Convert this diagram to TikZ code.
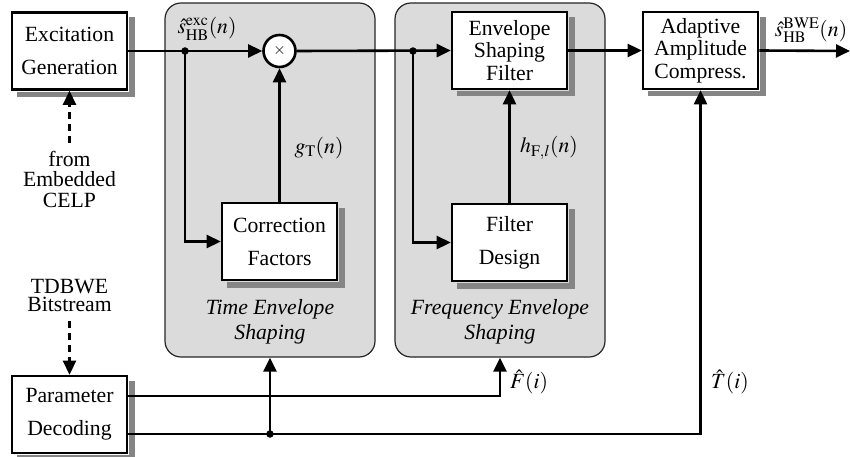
\documentclass[tikz,border=0pt]{standalone}
\usepackage{mathptmx}
\usepackage{fontspec}
\setmainfont{Liberation Serif}
\usetikzlibrary{arrows.meta}
\begin{document}
\begin{tikzpicture}[x=1pt,y=-1pt,
  every node/.style={font=\fontsize{21.7}{23}\selectfont},
  blk/.style={draw, line width=2.6pt, fill=white, minimum width=115pt, minimum height=77pt,
    align=center, inner sep=0pt},
  shd/.style={fill=black!48},
  two/.style={font=\fontsize{21.7}{33}\selectfont},
  three/.style={font=\fontsize{21.7}{22.5}\selectfont},
  grp/.style={draw=black!85, line width=1.2pt, fill=black!14, rounded corners=16pt,
    minimum width=210pt, minimum height=354pt, inner sep=0pt},
  sig/.style={line width=2.6pt, -{Triangle[length=14pt,width=13pt]}},
  dsh/.style={line width=2.6pt, dash pattern=on 7pt off 5pt, -{Triangle[length=14pt,width=13pt]}},
  jdot/.style={circle, fill=black, inner sep=0pt, minimum size=7.5pt},
  mult/.style={circle, draw, line width=2.6pt, fill=white, minimum size=32pt, inner sep=0pt},
  lbl/.style={inner sep=0pt, align=center},
  grplbl/.style={inner sep=0pt, align=center, font=\fontsize{21.7}{25}\selectfont\itshape}
]
\useasboundingbox (0,0) rectangle (850,457);

% groups
\node[grp] (tg) at (270,180) {};
\node[grp] (fg) at (500,180) {};
\node[grplbl] (tgl) at (270,322) {Time Envelope\\Shaping};
\node[grplbl] (fgl) at (500,322) {Frequency Envelope\\Shaping};

% blocks
\node[blk,two] (exc) at (69.5,51) {Excitation\\Generation};
\node[blk,three] (esf) at (509.5,50.5) {Envelope\\Shaping\\Filter};
\node[blk,three] (aac) at (700.5,50.5) {Adaptive\\Amplitude\\Compress.};
\node[blk,two] (cf) at (279.5,241.5) {Correction\\Factors};
\node[blk,two] (fd) at (509.5,242.5) {Filter\\Design};
\node[blk,two] (pd) at (69.5,414.5) {Parameter\\Decoding};
\node[mult] (mx) at (279.5,51) {\fontsize{16}{16}\selectfont$\times$};

% shadows: strips along the right and lower sides of each block
\foreach \bx in {exc,esf,aac,cf,fd,pd}{
  \fill[shd] ([shift={(0.9,6)}]\bx.north east) rectangle ([shift={(6.2,6.2)}]\bx.south east);
  \fill[shd] ([shift={(6,0.9)}]\bx.south west) rectangle ([shift={(6.2,6.2)}]\bx.south east);
}

% free texts
\node[lbl, font=\fontsize{21.7}{20.5}\selectfont] (celp) at (69.5,179) {from\\Embedded\\CELP};
\node[lbl, font=\fontsize{21.7}{18.5}\selectfont] (tdb) at (69.5,295.5) {TDBWE\\Bitstream};

% junctions
\node[jdot] (j1) at (185,51) {};
\node[jdot] (j2) at (413,51) {};
\node[jdot] (j3) at (270,434) {};
\coordinate (out) at (850,51);

% signal path
\draw[sig] (exc.east) -- (mx.west);
\draw[sig] (j1.center) |- (cf.west);
\draw[sig] (cf.north) -- (mx.south);
\draw[sig] (mx.east) -- (esf.west);
\draw[sig] (j2.center) |- (fd.west);
\draw[sig] (fd.north) -- (esf.south);
\draw[sig] (esf.east) -- (aac.west);
\draw[sig] (aac.east) -- (out);

% parameter paths
\draw[sig] ([yshift=18.5pt]pd.east) -| (fg.south);
\draw[sig] ([yshift=-19.5pt]pd.east) -| (aac.south);
\draw[sig] (j3.center) -- (tg.south);

% dashed inputs
\draw[dsh] ([yshift=8pt]celp.north) -- (exc.south);
\draw[dsh] ([yshift=-9pt]tdb.south) -- (pd.north);

% labels
\node[lbl] (lexc) at (207,29) {$\hat{s}_{\mathrm{HB}}^{\mathrm{exc}}(n)$};
\node[lbl] (lbwe) at (811,30) {$\hat{s}_{\mathrm{HB}}^{\mathrm{BWE}}(n)$};
\node[lbl] (lg) at (319,148) {$g_{\mathrm{T}}(n)$};
\node[lbl] (lh) at (549,148) {$h_{\mathrm{F},l}(n)$};
\node[lbl] (lF) at (529,382) {$\hat{F}(i)$};
\node[lbl] (lT) at (730,382) {$\hat{T}(i)$};
\end{tikzpicture}
\end{document}
